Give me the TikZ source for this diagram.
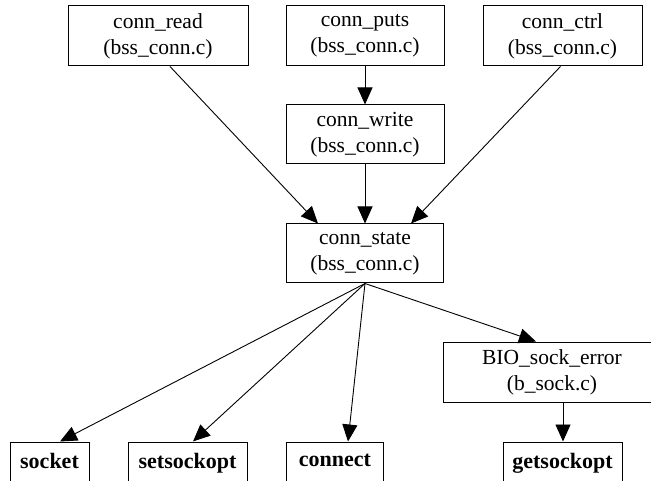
\documentclass[tikz,border=0pt]{standalone}
\usepackage{fontspec}
\setmainfont{Liberation Serif}
\usetikzlibrary{arrows.meta}
\tikzset{
  fn/.style={draw, line width=1pt, inner sep=0pt, align=center,
    minimum height=60pt,
    font=\fontsize{21.5}{25.7}\selectfont},
  sys/.style={draw, line width=1pt, inner sep=0pt, align=center,
    minimum height=48pt,
    font=\fontsize{22}{26}\selectfont\bfseries},
  call/.style={line width=0.9pt, -{Triangle[length=17pt,width=15pt]}},
}
\begin{document}
\begin{tikzpicture}[x=1pt,y=-1pt]
  \fill[white] (0,0) rectangle (651,481);
  \useasboundingbox (0,0) rectangle (651,481);
  \clip (0,0) rectangle (651,481);

  % callers
  \node[fn, minimum width=180pt] (read)  at (158,36)   {conn\_read\\(bss\_conn.c)};
  \node[fn, minimum width=158pt] (puts)  at (365,36)   {conn\_puts\\(bss\_conn.c)};
  \node[fn, minimum width=159pt] (ctrl)  at (562.5,36) {conn\_ctrl\\(bss\_conn.c)};
  \node[fn, minimum width=158pt, minimum height=59pt] (write) at (365,134.5) {conn\_write\\(bss\_conn.c)};
  \node[fn, minimum width=157.5pt, minimum height=59pt] (state) at (365,253.5) {conn\_state\\(bss\_conn.c)};
  \node[fn, minimum width=217pt] (bio)   at (552,372)  {BIO\_sock\_error\\(b\_sock.c)};

  % system calls
  \node[sys, minimum width=79pt]  (socket)     at (49.5,466)  {\raisebox{11pt}{socket}};
  \node[sys, minimum width=119pt] (setsockopt) at (187.5,466) {\raisebox{11pt}{setsockopt}};
  \node[sys, minimum width=97.5pt](connect)    at (335,466)   {\raisebox{11pt}{connect}};
  \node[sys, minimum width=119pt] (getsockopt) at (562.5,466) {\raisebox{11pt}{getsockopt}};

  % call edges
  \draw[call] (puts.south) -- (write.north);
  \draw[call] (write.south) -- (state.north);
  \draw[call] ([xshift=12pt]read.south) -- ([xshift=-47pt]state.north);
  \draw[call] ([xshift=-2pt]ctrl.south) -- ([xshift=46pt]state.north);
  \draw[call] (state.south) -- ([xshift=10.5pt]socket.north);
  \draw[call] (state.south) -- ([xshift=5.5pt]setsockopt.north);
  \draw[call] (state.south) -- ([xshift=13pt]connect.north);
  \draw[call] (state.south) -- ([xshift=-16pt]bio.north);
  \draw[call] ([xshift=11pt]bio.south) -- ([xshift=0.5pt]getsockopt.north);
\end{tikzpicture}
\end{document}
